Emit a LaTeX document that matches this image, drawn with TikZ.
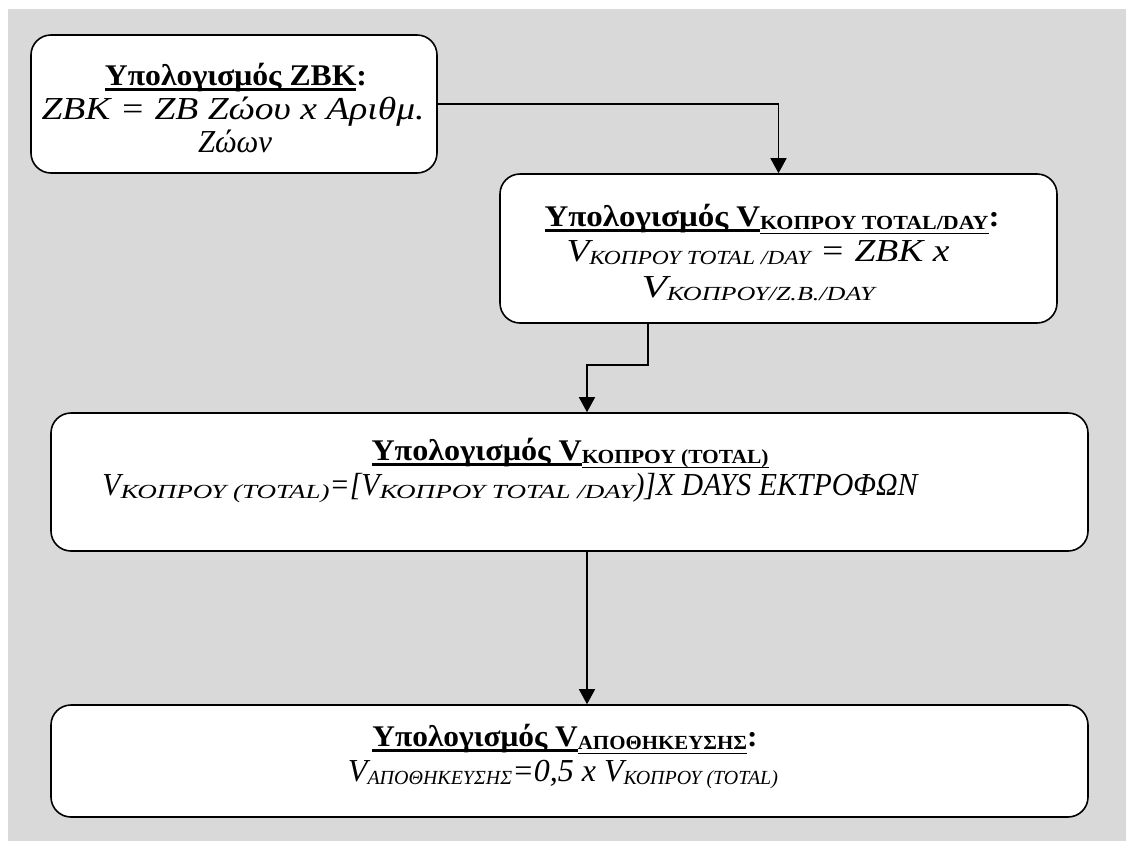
\documentclass[tikz,border=0pt]{standalone}
\usepackage{fontspec}
\setmainfont{Liberation Serif}
\usetikzlibrary{arrows.meta}
\definecolor{bggray}{RGB}{217,217,217}
\newcommand\ulthick[1]{\setbox0\hbox{#1}\rlap{\rule[-5.5pt]{\wd0}{2.3pt}}\box0}
\newcommand\ulthin[1]{\setbox0\hbox{#1}\rlap{\rule[-8pt]{\wd0}{1.3pt}}\box0}
\newcommand\sbs[1]{\raisebox{-3.5pt}{\fontsize{20}{20}\selectfont #1}}
\newcommand\sbw[1]{\scalebox{1.45}[1]{\sbs{#1}}}
\newcommand\fitw[2]{\resizebox{#1pt}{\height}{#2}}
\tikzset{
  box/.style={draw=black, line width=1.6pt, fill=white, rounded corners=20pt, inner sep=0pt},
  ttl/.style={anchor=base, inner sep=0pt, font=\fontsize{30}{34}\selectfont\bfseries},
  body/.style={anchor=base, inner sep=0pt, font=\fontsize{32}{34}\selectfont\itshape},
  arr/.style={line width=1.5pt, -{Triangle[width=16pt,length=15pt]}}
}
\begin{document}
\begin{tikzpicture}[x=1pt,y=-1pt]
\useasboundingbox (0,0) rectangle (1126,841);
\fill[bggray] (8,9) rectangle (1126,841);
% boxes
\node[box, minimum width=406pt, minimum height=138pt] (b1) at (234,104) {};
\node[box, minimum width=557pt, minimum height=149pt] (b2) at (778.5,248.5) {};
\node[box, minimum width=1037pt, minimum height=138pt] (b3) at (569.5,482) {};
\node[box, minimum width=1037pt, minimum height=112pt] (b4) at (569.5,761) {};
% box 1 text
\node[ttl] (t1a) at (236,85) {\fitw{262}{\ulthick{Υπολογισμός ZBK}:}};
\node[body] (t1b) at (233,119) {\fitw{383}{ZBK = ZB Ζώου x Αριθμ.}};
\node[body] (t1c) at (235,152) {\fitw{74}{Ζώων}};
% box 2 text
\node[ttl] (t2a) at (772,226) {\fitw{455}{\ulthick{Υπολογισμός V}\ulthin{\sbs{ΚΟΠΡΟΥ TOTAL/DAY}}:}};
\node[body] (t2b) at (758,261) {\fitw{383}{V\sbs{ΚΟΠΡΟΥ TOTAL /DAY} = ZBK x}};
\node[body] (t2c) at (758,297) {\fitw{233}{V\sbs{ΚΟΠΡΟΥ/Z.B./DAY}}};
% box 3 text
\node[ttl] (t3a) at (570,460) {\fitw{397}{\ulthick{Υπολογισμός V}\ulthin{\sbs{ΚΟΠΡΟΥ (TOTAL)}}}};
\node[body] (t3b) at (510,495) {\fitw{815}{V\sbw{ΚΟΠΡΟΥ (TOTAL)}=[V\sbw{ΚΟΠΡΟΥ TOTAL /DAY})]X DAYS ΕΚΤΡΟΦΩΝ}};
% box 4 text
\node[ttl] (t4a) at (565,746) {\fitw{385}{\ulthick{Υπολογισμός V}\ulthin{\sbs{ΑΠΟΘΗΚΕΥΣΗΣ}}:}};
\node[body] (t4b) at (563,781) {\fitw{430}{V\sbs{ΑΠΟΘΗΚΕΥΣΗΣ}=0,5 x V\sbs{ΚΟΠΡΟΥ (TOTAL)}}};
% connectors
\coordinate (k) at (587,365);
\draw[arr] (b1.east) -| (b2.north);
\draw[arr] ([xshift=-130.5pt]b2.south) |- (k) -- (k |- b3.north);
\draw[arr] (b3.south -| k) -- (b4.north -| k);
\end{tikzpicture}
\end{document}
